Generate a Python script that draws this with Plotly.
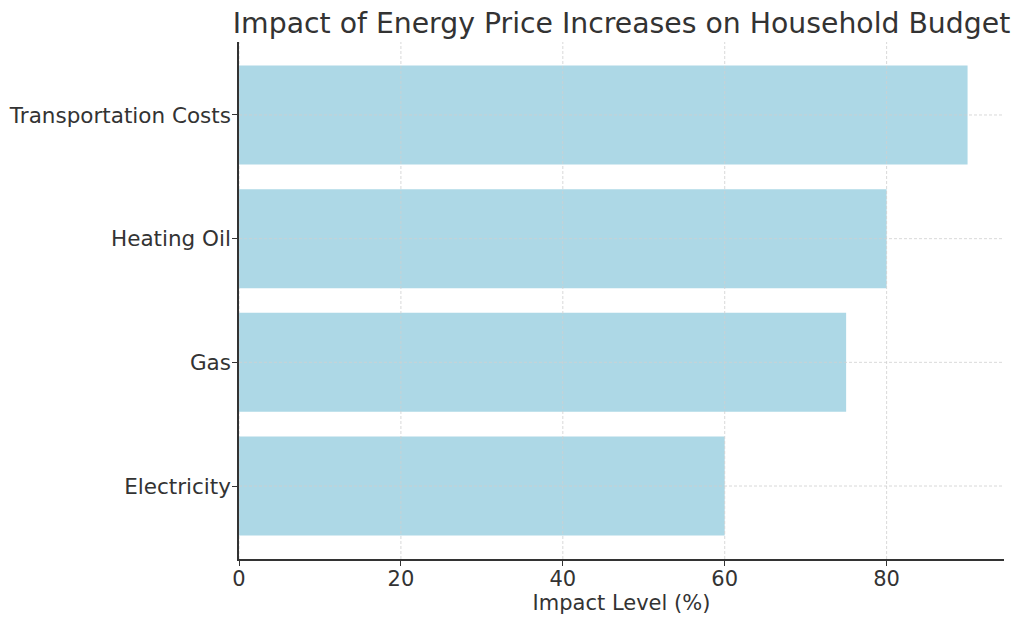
import plotly.graph_objects as go

categories = ["Electricity", "Gas", "Heating Oil", "Transportation Costs"]
impact = [60, 75, 80, 90]
x_ticks = [0, 20, 40, 60, 80]

fig = go.Figure(go.Bar(
    x=impact, y=categories, orientation="h",
    marker=dict(color="#ADD8E6", line=dict(width=0)),
    width=0.8,
))

font = "DejaVu Sans"
txt = "#333333"
grid = dict(color="#cfcfcf", width=0.8, dash="3px,2px")

# gridlines drawn above the bars (as in reference)
for xv in x_ticks:
    fig.add_shape(type="line", xref="x", yref="paper", x0=xv, x1=xv, y0=0, y1=1,
                  line=grid, layer="above")
for cat in categories:
    fig.add_shape(type="line", xref="paper", yref="y", x0=0, x1=1, y0=cat, y1=cat,
                  line=grid, layer="above")

fig.update_layout(
    width=1024, height=623,
    margin=dict(l=231, r=28, t=34, b=72, autoexpand=False),
    plot_bgcolor="white", paper_bgcolor="white",
    font=dict(family=font, color=txt, size=21),
    title=dict(text="Impact of Energy Price Increases on Household Budget",
               xref="paper", x=0.5, xanchor="center", y=0.992, yanchor="top",
               font=dict(size=28.3, color=txt, family=font)),
    showlegend=False,
)
fig.update_xaxes(
    range=[0, 94.5], tickvals=x_ticks, ticks="outside", ticklen=5, tickwidth=1.2,
    tickcolor="#333333",
    showline=True, linecolor="#333333", linewidth=1.5,
    showgrid=False, zeroline=False, automargin=False,
    ticklabelstandoff=-5,
    title=dict(text="Impact Level (%)", font=dict(size=21), standoff=4),
    tickfont=dict(size=21),
)
fig.update_yaxes(
    range=[-0.59, 3.59], ticks="outside", ticklen=5, tickwidth=1.2,
    tickcolor="#333333",
    showline=True, linecolor="#333333", linewidth=1.5,
    showgrid=False, zeroline=False, automargin=False,
    ticklabelstandoff=-3,
    tickfont=dict(size=21.5),
)

fig.write_html("out.html")
